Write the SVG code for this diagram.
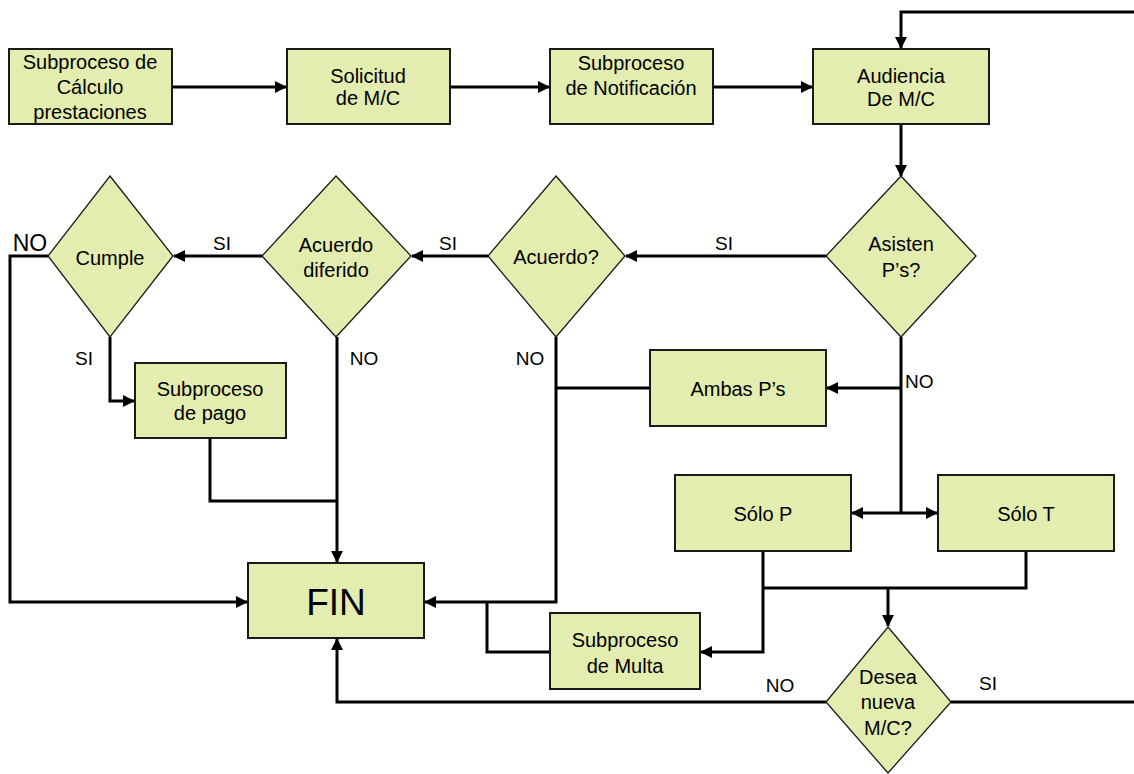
<svg xmlns="http://www.w3.org/2000/svg" width="1134" height="774" viewBox="0 0 1134 774">
<defs>
<marker id="ah" viewBox="0 0 12 12" refX="11" refY="6" markerWidth="12" markerHeight="12" markerUnits="userSpaceOnUse" orient="auto">
<path d="M0,0 L12,6 L0,12 z" fill="#000"/>
</marker>
<style>
.box{fill:#E3EDB0;stroke:#1a1a1a;stroke-width:2}
.dia{fill:#E3EDB0;stroke:#1a1a1a;stroke-width:1.3}
.t{font-family:"Liberation Sans",Arial,sans-serif;font-size:20px;fill:#000;text-anchor:middle}
.lbl{font-family:"Liberation Sans",Arial,sans-serif;font-size:19px;fill:#000;text-anchor:middle}
.c{fill:none;stroke:#000;stroke-width:3}
.ca{fill:none;stroke:#000;stroke-width:3;marker-end:url(#ah)}
</style>
</defs>
<rect width="1134" height="774" fill="#fff"/>
<g id="connectors">
<path class="ca" d="M172,87 H286"/>
<path class="ca" d="M450,87 H549"/>
<path class="ca" d="M713,87 H812"/>
<path class="ca" d="M1134,12 H901 V48"/>
<path class="ca" d="M901,124 V176"/>
<path class="ca" d="M826,256 H626"/>
<path class="ca" d="M488,256 H412"/>
<path class="ca" d="M262,256 H174"/>
<path class="ca" d="M48,256 H10 V602 H247"/>
<path class="ca" d="M110,337 V401 H134"/>
<path class="c" d="M210,438 V501 H337"/>
<path class="ca" d="M337,337 V562"/>
<path class="ca" d="M556,337 V602 H425"/>
<path class="c" d="M650,388 H556"/>
<path class="c" d="M901,337 V513"/>
<path class="ca" d="M901,388 H827"/>
<path class="ca" d="M901,513 H852"/>
<path class="ca" d="M901,513 H937"/>
<path class="ca" d="M763,551 V652 H701"/>
<path class="c" d="M1026,551 V588 H763"/>
<path class="ca" d="M888,588 V626"/>
<path class="c" d="M550,652 H487 V602"/>
<path class="ca" d="M826,702 H337 V639"/>
<path class="c" d="M951,702 H1134"/>
</g>
<g id="n_calculo">
<rect class="box" x="9" y="49" width="163" height="75"/>
<text class="t" x="90" y="69">Subproceso de</text>
<text class="t" x="90" y="94">Cálculo</text>
<text class="t" x="90" y="119">prestaciones</text>
</g>
<g id="n_solicitud">
<rect class="box" x="287" y="49" width="163" height="75"/>
<text class="t" x="368" y="83">Solicitud</text>
<text class="t" x="368" y="105">de M/C</text>
</g>
<g id="n_notificacion">
<rect class="box" x="550" y="49" width="163" height="75"/>
<text class="t" x="631" y="70">Subproceso</text>
<text class="t" x="631" y="95">de Notificación</text>
</g>
<g id="n_audiencia">
<rect class="box" x="813" y="49" width="176" height="75"/>
<text class="t" x="901" y="83">Audiencia</text>
<text class="t" x="901" y="106">De M/C</text>
</g>
<g id="n_asisten">
<polygon class="dia" points="901,176 976,256 901,337 826,256"/>
<text class="t" x="901" y="251">Asisten</text>
<text class="t" x="901" y="277">P’s?</text>
</g>
<g id="n_acuerdo">
<polygon class="dia" points="556,176 625,256 556,337 488,256"/>
<text class="t" x="556" y="264">Acuerdo?</text>
</g>
<g id="n_diferido">
<polygon class="dia" points="336,176 411,256 336,337 262,256"/>
<text class="t" x="336" y="252">Acuerdo</text>
<text class="t" x="336" y="277">diferido</text>
</g>
<g id="n_cumple">
<polygon class="dia" points="110,176 173,256 110,337 48,256"/>
<text class="t" x="110" y="265">Cumple</text>
</g>
<g id="n_pago">
<rect class="box" x="135" y="363" width="151" height="75"/>
<text class="t" x="210" y="396">Subproceso</text>
<text class="t" x="210" y="420">de pago</text>
</g>
<g id="n_ambas">
<rect class="box" x="650" y="350" width="176" height="76"/>
<text class="t" x="738" y="396">Ambas P’s</text>
</g>
<g id="n_solop">
<rect class="box" x="675" y="475" width="176" height="76"/>
<text class="t" x="763" y="521">Sólo P</text>
</g>
<g id="n_solot">
<rect class="box" x="938" y="475" width="176" height="76"/>
<text class="t" x="1026" y="521">Sólo T</text>
</g>
<g id="n_fin">
<rect class="box" x="248" y="563" width="176" height="75"/>
<text class="t" x="336" y="615" style="font-size:37px">FIN</text>
</g>
<g id="n_multa">
<rect class="box" x="550" y="613" width="150" height="76"/>
<text class="t" x="625" y="647">Subproceso</text>
<text class="t" x="625" y="673">de Multa</text>
</g>
<g id="n_desea">
<polygon class="dia" points="888,627 951,702 888,773 826,702"/>
<text class="t" x="888" y="684">Desea</text>
<text class="t" x="888" y="709">nueva</text>
<text class="t" x="888" y="735">M/C?</text>
</g>
<g id="labels">
<text class="lbl" x="30" y="251" style="font-size:23px">NO</text>
<text class="lbl" x="222" y="250">SI</text>
<text class="lbl" x="448" y="250">SI</text>
<text class="lbl" x="724" y="250">SI</text>
<text class="lbl" x="84" y="365">SI</text>
<text class="lbl" x="364" y="365">NO</text>
<text class="lbl" x="530" y="365">NO</text>
<text class="lbl" x="905" y="388" style="text-anchor:start">NO</text>
<text class="lbl" x="780" y="692">NO</text>
<text class="lbl" x="988" y="690">SI</text>
</g>
</svg>
